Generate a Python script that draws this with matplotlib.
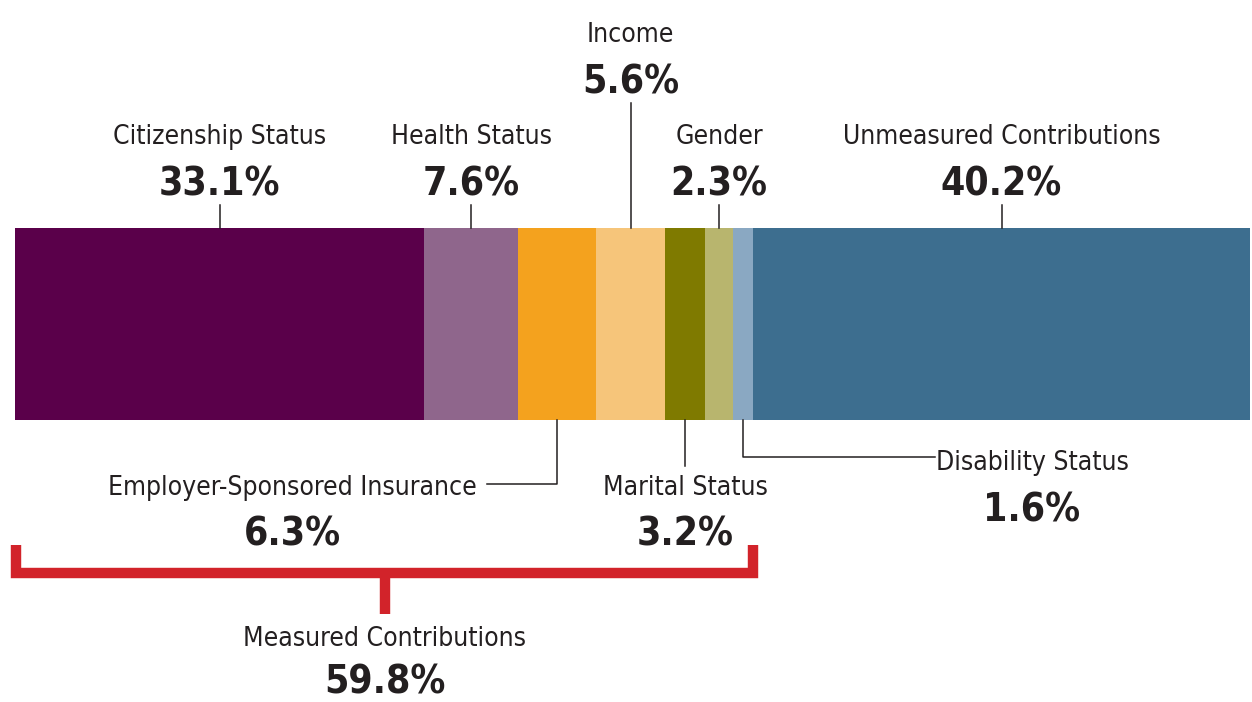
import matplotlib.pyplot as plt
from matplotlib import font_manager

names = ["Citizenship Status", "Health Status", "Employer-Sponsored Insurance",
         "Income", "Marital Status", "Gender", "Disability Status",
         "Unmeasured Contributions"]
values = [33.1, 7.6, 6.3, 5.6, 3.2, 2.3, 1.6, 40.2]
colors = ["#5a004a", "#8f668c", "#f4a21e", "#f6c57a",
          "#7f7a00", "#b8b56e", "#8aa8c2", "#3d6e8f"]
measured_label = "Measured Contributions"
measured_total = 59.8

# the original uses a condensed face; pick one if the system has any
fonts = font_manager.fontManager.ttflist
narrow = [f for f in fonts if "Condensed" in f.name or "Narrow" in f.name
          or str(f.stretch) in ("condensed", "semi-condensed", "extra-condensed")]
if narrow:
    fam = narrow[0].name
    stretch = "condensed"
    NAME_FS, PCT_FS = 19, 28
else:
    fam = "DejaVu Sans"
    stretch = "normal"
    NAME_FS, PCT_FS = 16, 24
plt.rcParams["font.family"] = [fam, "DejaVu Sans"]

TXT = "#231f20"
RED = "#d2232a"

W, H = 1252, 702
fig = plt.figure(figsize=(W / 100, H / 100), dpi=100)
# x in data units over the bar, y in pixels from the top
ax = fig.add_axes([15 / W, 0, 1235 / W, 1])
total = sum(values)
ax.set_xlim(0, total)
ax.set_ylim(H, 0)
ax.axis("off")


def px(x):
    return (x - 15) / 1235 * total


bar_top, bar_bot = 228, 420
lefts = []
acc = 0
for v, c in zip(values, colors):
    ax.barh((bar_top + bar_bot) / 2, v, left=acc, height=bar_bot - bar_top,
            color=c, edgecolor="none")
    lefts.append(acc)
    acc += v
centers = [l + v / 2 for l, v in zip(lefts, values)]


def label(x, y, name, pct, gap=51):
    ax.text(x, y, name, ha="center", va="baseline", fontsize=NAME_FS,
            color=TXT, fontstretch=stretch)
    ax.text(x, y + gap, f"{pct:.1f}%", ha="center", va="baseline",
            fontsize=PCT_FS, fontweight="bold", color=TXT, fontstretch=stretch)


lw = 1.1
# labels above the bar
for i, top_y in [(0, 144), (1, 144), (3, 42), (5, 144), (7, 144)]:
    label(centers[i], top_y, names[i], values[i])
    ax.plot([centers[i]] * 2, [top_y + 61, bar_top], color=TXT, lw=lw)

# Employer-Sponsored Insurance
ax.plot([centers[2], centers[2], px(487)], [bar_bot, 484, 484], color=TXT, lw=lw)
label(px(292), 495, names[2], values[2])

# Marital Status
ax.plot([centers[4]] * 2, [bar_bot, 466], color=TXT, lw=lw)
label(centers[4], 495, names[4], values[4])

# Disability Status
ax.plot([centers[6], centers[6], px(935)], [bar_bot, 457, 457], color=TXT, lw=lw)
label(px(1032), 470, names[6], values[6])

# bracket for measured contributions
m_end = lefts[7]
ax.plot([px(16), px(16), m_end, m_end], [545, 573, 573, 545], color=RED,
        lw=7.5, solid_joinstyle="miter", solid_capstyle="butt", clip_on=False)
mid = m_end / 2 + px(16) / 2
ax.plot([mid, mid], [573, 614], color=RED, lw=7.5, solid_capstyle="butt")
label(mid, 646, measured_label, measured_total, gap=48)

plt.savefig("out.png", dpi=100)
